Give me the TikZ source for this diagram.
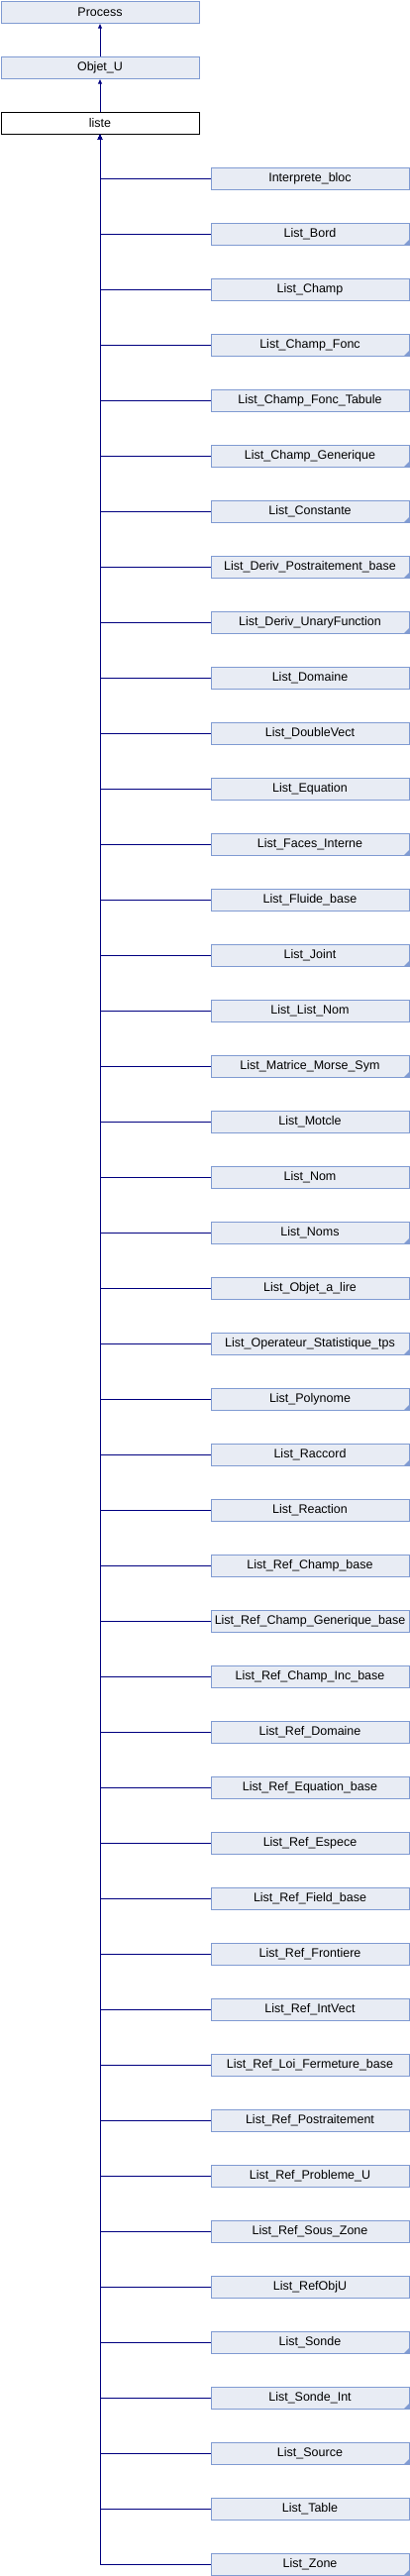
\documentclass[tikz,border=0pt]{standalone}
\usepackage{fontspec}
\setmainfont{Liberation Sans}
\usetikzlibrary{arrows.meta}
\definecolor{boxfill}{RGB}{232,236,244}
\definecolor{boxline}{RGB}{128,155,210}
\definecolor{edgecol}{RGB}{0,0,128}
\tikzset{
  cls/.style={rectangle, draw=boxline, fill=boxfill, line width=1pt, minimum width=200pt, minimum height=22pt, inner sep=0pt, anchor=north west, font=\fontsize{12.5}{15}\selectfont},
  cur/.style={cls, draw=black, fill=white},
  edge/.style={draw=edgecol, line width=1pt, -{Latex[length=5pt,width=4.5pt]}},
  marker/.style={fill=boxline}
}
\begin{document}
\begin{tikzpicture}[x=1pt,y=-1pt]
\useasboundingbox (0,0) rectangle (414,2600);
\node[cls] (process) at (0.5,0.5) {Process};
\node[cls] (objetu) at (0.5,56.5) {Objet\_U};
\node[cur] (liste) at (0.5,112.5) {liste};
\draw[edge] (objetu.north) -- (process.south);
\draw[edge] (liste.north) -- (objetu.south);
\foreach \t/\m [count=\i from 0] in {
 Interprete\_bloc/0, List\_Bord/1, List\_Champ/0, List\_Champ\_Fonc/1,
 List\_Champ\_Fonc\_Tabule/0, List\_Champ\_Generique/1, List\_Constante/1,
 List\_Deriv\_Postraitement\_base/1, List\_Deriv\_UnaryFunction/1, List\_Domaine/0,
 List\_DoubleVect/0, List\_Equation/0, List\_Faces\_Interne/1, List\_Fluide\_base/0,
 List\_Joint/1, List\_List\_Nom/0, List\_Matrice\_Morse\_Sym/1, List\_Motcle/0,
 List\_Nom/0, List\_Noms/1, List\_Objet\_a\_lire/0, List\_Operateur\_Statistique\_tps/1,
 List\_Polynome/1, List\_Raccord/1, List\_Reaction/0, List\_Ref\_Champ\_base/0,
 List\_Ref\_Champ\_Generique\_base/0, List\_Ref\_Champ\_Inc\_base/0, List\_Ref\_Domaine/0,
 List\_Ref\_Equation\_base/0, List\_Ref\_Espece/0, List\_Ref\_Field\_base/0,
 List\_Ref\_Frontiere/0, List\_Ref\_IntVect/0, List\_Ref\_Loi\_Fermeture\_base/0,
 List\_Ref\_Postraitement/0, List\_Ref\_Probleme\_U/0, List\_Ref\_Sous\_Zone/0,
 List\_RefObjU/0, List\_Sonde/1, List\_Sonde\_Int/1, List\_Source/1, List\_Table/0,
 List\_Zone/1}{
  \node[cls] (c\i) at (212.5,168.5+56*\i) {\t};
  \ifnum\m=1
    \fill[marker] (c\i.south east) -- ++(-6,0) -- ++(6,-6) -- cycle;
  \fi
  \draw[edge] (c\i.west) -| (liste.south);
}
\end{tikzpicture}
\end{document}
